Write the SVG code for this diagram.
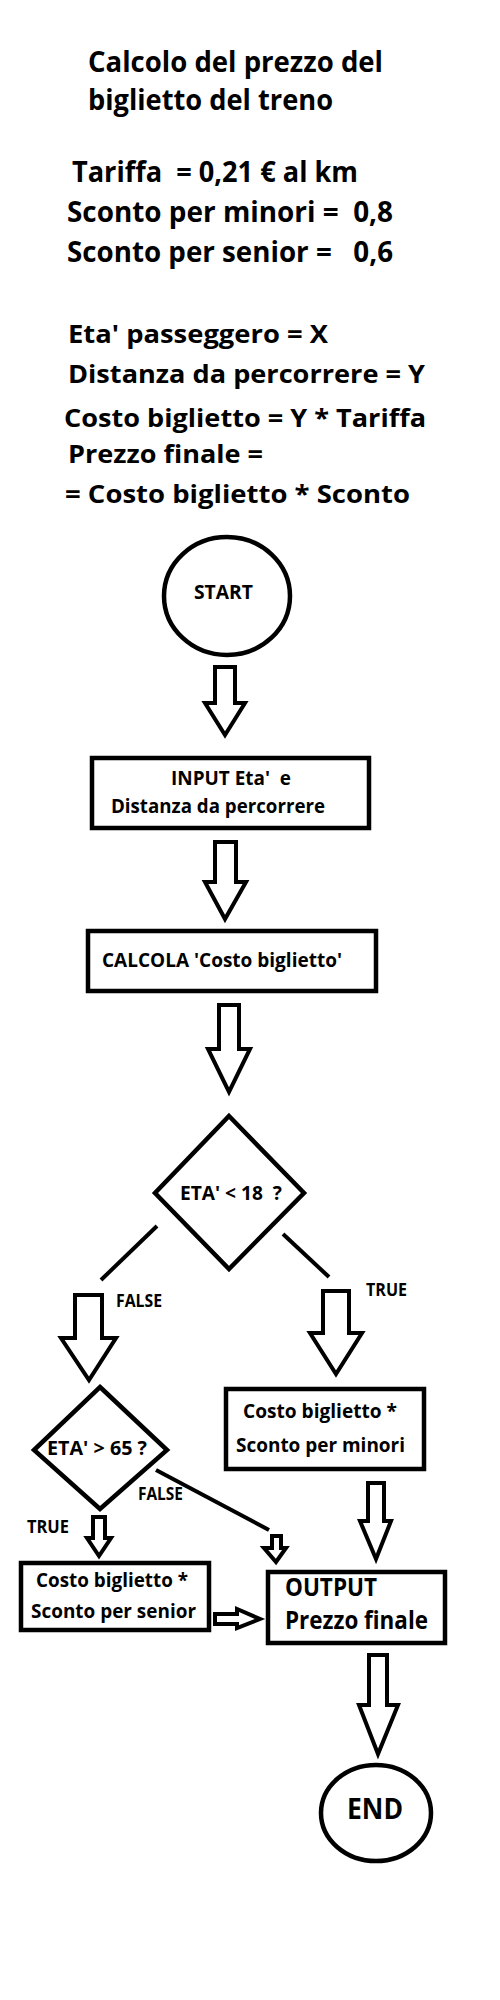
<svg xmlns="http://www.w3.org/2000/svg" width="500" height="2000" viewBox="0 0 500 2000">
<style>
text{font-family:"Open Sans","Noto Sans","Liberation Sans",sans-serif;font-weight:bold;fill:#000;white-space:pre}
.t{font-size:28px}
.m{font-size:25px}
.n{font-size:20px}
.s{font-size:18px}
.shape{fill:#fff;stroke:#000;stroke-width:4.5}
.arr{fill:#fff;stroke:#000;stroke-width:4;stroke-linejoin:miter}
.ln{fill:none;stroke:#000;stroke-width:4}
</style>
<rect width="500" height="2000" fill="#fff"/>
<g id="header">
<text class="t" x="88" y="72" textLength="295" lengthAdjust="spacingAndGlyphs">Calcolo del prezzo del</text>
<text class="t" x="88" y="110" textLength="245" lengthAdjust="spacingAndGlyphs">biglietto del treno</text>
<text class="t" x="72" y="182" textLength="286" lengthAdjust="spacingAndGlyphs" xml:space="preserve">Tariffa  = 0,21 € al km</text>
<text class="t" x="67" y="222" textLength="326" lengthAdjust="spacingAndGlyphs" xml:space="preserve">Sconto per minori =  0,8</text>
<text class="t" x="67" y="262" textLength="326" lengthAdjust="spacingAndGlyphs" xml:space="preserve">Sconto per senior =   0,6</text>
<text class="m" x="68" y="343" textLength="260" lengthAdjust="spacingAndGlyphs">Eta' passeggero = X</text>
<text class="m" x="68" y="383" textLength="357" lengthAdjust="spacingAndGlyphs">Distanza da percorrere = Y</text>
<text class="m" x="64" y="427" textLength="362" lengthAdjust="spacingAndGlyphs">Costo biglietto = Y * Tariffa</text>
<text class="m" x="68" y="463" textLength="195" lengthAdjust="spacingAndGlyphs">Prezzo finale =</text>
<text class="m" x="65" y="503" textLength="345" lengthAdjust="spacingAndGlyphs">= Costo biglietto * Sconto</text>
</g>
<g id="connectors">
<path class="arr" d="M215 667 L235 667 L235 703 L245 703 L225 735 L205 703 L215 703 Z"/>
<path class="arr" d="M215 842 L236 842 L236 882 L246 882 L225 919 L205 882 L215 882 Z"/>
<path class="arr" d="M219 1005 L239 1005 L239 1049 L250 1049 L229 1092 L208 1049 L219 1049 Z"/>
<line class="ln" x1="157" y1="1226" x2="101" y2="1280"/>
<line class="ln" x1="283" y1="1234" x2="329" y2="1277"/>
<path class="arr" d="M75 1295 L102 1295 L102 1338 L116 1338 L89 1380 L61 1338 L75 1338 Z"/>
<path class="arr" d="M323 1291 L349 1291 L349 1333 L362 1333 L336 1374 L310 1333 L323 1333 Z"/>
<text class="s" x="116" y="1307" textLength="46" lengthAdjust="spacingAndGlyphs">FALSE</text>
<text class="s" x="366" y="1296" textLength="41" lengthAdjust="spacingAndGlyphs">TRUE</text>
<line class="ln" x1="156" y1="1470" x2="269" y2="1530"/>
<text class="s" x="138" y="1500" textLength="45" lengthAdjust="spacingAndGlyphs">FALSE</text>
<text class="s" x="27" y="1533" textLength="42" lengthAdjust="spacingAndGlyphs">TRUE</text>
<path class="arr" d="M272 1536 L281 1536 L281 1548 L286 1548 L276 1562 L264 1548 L272 1548 Z"/>
<path class="arr" d="M93 1517 L105 1517 L105 1538 L111 1538 L99 1556 L87 1538 L93 1538 Z"/>
<path class="arr" d="M368 1483 L384 1483 L384 1521 L391 1521 L376 1559 L360 1521 L368 1521 Z"/>
<path class="arr" d="M215 1614 L237 1614 L237 1609 L260 1619 L237 1628 L237 1624 L215 1624 Z"/>
<path class="arr" d="M369 1655 L387 1655 L387 1705 L398 1705 L378 1754 L359 1705 L369 1705 Z"/>
</g>
<g id="start">
<ellipse class="shape" cx="227" cy="596" rx="63" ry="59"/>
<text class="n" x="194" y="599" textLength="59" lengthAdjust="spacingAndGlyphs">START</text>
</g>
<g id="input">
<rect class="shape" x="92" y="758" width="277" height="70"/>
<text class="n" x="171" y="785" textLength="120" lengthAdjust="spacingAndGlyphs" xml:space="preserve">INPUT Eta'  e</text>
<text class="n" x="111" y="813" textLength="214" lengthAdjust="spacingAndGlyphs">Distanza da percorrere</text>
</g>
<g id="calcola">
<rect class="shape" x="88" y="931" width="288" height="60"/>
<text class="n" x="102" y="967" textLength="240" lengthAdjust="spacingAndGlyphs">CALCOLA 'Costo biglietto'</text>
</g>
<g id="decision1">
<polygon class="shape" points="229,1116 304,1193 229,1269 155,1193"/>
<text class="n" x="180" y="1200" textLength="102" lengthAdjust="spacingAndGlyphs" xml:space="preserve">ETA' &lt; 18  ?</text>
</g>
<g id="minori">
<rect class="shape" x="226" y="1389" width="198" height="80"/>
<text class="n" x="243" y="1418" textLength="154" lengthAdjust="spacingAndGlyphs">Costo biglietto *</text>
<text class="n" x="236" y="1452" textLength="169" lengthAdjust="spacingAndGlyphs">Sconto per minori</text>
</g>
<g id="decision2">
<polygon class="shape" points="100,1387 167,1450 100,1509 34,1450"/>
<text class="n" x="47" y="1455" textLength="100" lengthAdjust="spacingAndGlyphs">ETA' &gt; 65 ?</text>
</g>
<g id="senior">
<rect class="shape" x="21" y="1563" width="188" height="67"/>
<text class="n" x="36" y="1587" textLength="152" lengthAdjust="spacingAndGlyphs">Costo biglietto *</text>
<text class="n" x="31" y="1618" textLength="165" lengthAdjust="spacingAndGlyphs">Sconto per senior</text>
</g>
<g id="output">
<rect class="shape" x="268" y="1572" width="177" height="71"/>
<text class="m" x="285" y="1596" textLength="92" lengthAdjust="spacingAndGlyphs">OUTPUT</text>
<text class="m" x="285" y="1629" textLength="143" lengthAdjust="spacingAndGlyphs">Prezzo finale</text>
</g>
<g id="end">
<ellipse class="shape" cx="376" cy="1813" rx="55" ry="48"/>
<text class="t" x="347" y="1819" textLength="56" lengthAdjust="spacingAndGlyphs">END</text>
</g>
</svg>
